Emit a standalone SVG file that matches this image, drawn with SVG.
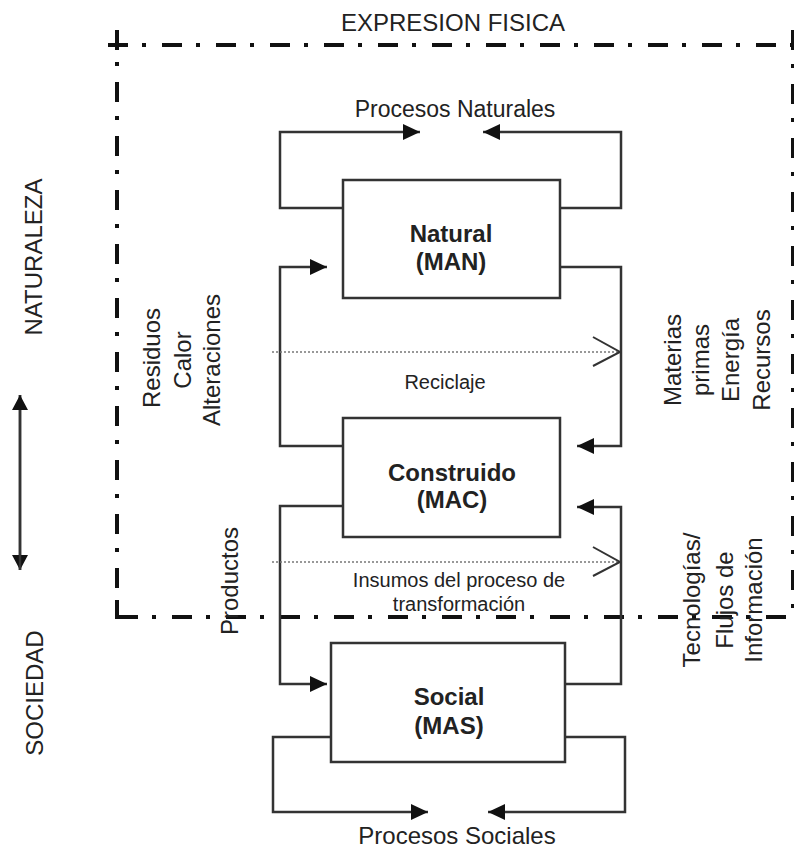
<svg xmlns="http://www.w3.org/2000/svg" width="794" height="851" viewBox="0 0 794 851">
<defs>
<style>
text{font-family:"Liberation Sans",Arial,sans-serif;fill:#222}
.box{fill:#fff;stroke:#333;stroke-width:2.5}
.lbl{font-size:24px;font-weight:bold;text-anchor:middle}
.t{font-size:24px;text-anchor:middle}
.conn{fill:none;stroke:#333;stroke-width:2.5}
.dot{fill:none;stroke:#777;stroke-width:1.5;stroke-dasharray:2 2}
.open{fill:none;stroke:#333;stroke-width:2}
.dd{fill:none;stroke:#111;stroke-width:4;stroke-dasharray:20 14 4 16}
</style>
<marker id="ah" markerUnits="userSpaceOnUse" markerWidth="18" markerHeight="16" refX="17" refY="8" orient="auto">
<path d="M0,0 L17,8 L0,16 Z" fill="#111"/>
</marker>
<marker id="ah2" markerUnits="userSpaceOnUse" markerWidth="16" markerHeight="16" refX="15" refY="8" orient="auto">
<path d="M0,0 L15,8 L0,16 Z" fill="#111"/>
</marker>
</defs>
<rect width="794" height="851" fill="#fff"/>

<g id="frame">
<path class="dd" d="M108,45 H794"/>
<path d="M117,30 V50" stroke="#111" stroke-width="4"/>
<path class="dd" d="M117,50 V617" stroke-dashoffset="22"/>
<path class="dd" d="M117,617 H794" stroke-dashoffset="53"/>
<path d="M117,600 V617 H133" fill="none" stroke="#111" stroke-width="4"/>
<path class="dd" d="M793,30 V617" stroke-width="3" stroke="#666"/>
<text x="453" y="31" style="font-size:24px;text-anchor:middle">EXPRESION FISICA</text>
</g>

<g id="axis">
<path d="M20,395 V570" stroke="#333" stroke-width="2.5" marker-end="url(#ah2)"/>
<path d="M20,570 V395" stroke="#333" stroke-width="2.5" marker-end="url(#ah2)"/>
<text class="t" transform="translate(42,257) rotate(-90)">NATURALEZA</text>
<text class="t" transform="translate(43,693) rotate(-90)">SOCIEDAD</text>
</g>

<g id="connectors">
<path class="conn" d="M343,208 H280 V132 H420" marker-end="url(#ah)"/>
<path class="conn" d="M560,208 H621 V132 H483" marker-end="url(#ah)"/>
<path class="conn" d="M343,446 H280 V267 H327" marker-end="url(#ah)"/>
<path class="conn" d="M560,267 H621 V446 H577" marker-end="url(#ah)"/>
<path class="conn" d="M565,684 H621 V507 H577" marker-end="url(#ah)"/>
<path class="conn" d="M343,506 H280 V684 H327" marker-end="url(#ah)"/>
<path class="conn" d="M335,737 H273 V812 H428" marker-end="url(#ah)"/>
<path class="conn" d="M562,737 H625 V812 H488" marker-end="url(#ah)"/>
<path class="dot" d="M272,352 H619"/>
<polyline class="open" points="593,337 620,352 593,366"/>
<path class="dot" d="M272,562 H619"/>
<polyline class="open" points="593,547 620,562 593,576"/>
<text x="455" y="117" style="font-size:23px;text-anchor:middle">Procesos Naturales</text>
<text x="445" y="389" style="font-size:20px;text-anchor:middle">Reciclaje</text>
<text x="459" y="587" style="font-size:20px;text-anchor:middle">Insumos del proceso de</text>
<text x="459" y="611" style="font-size:20px;text-anchor:middle">transformación</text>
<text x="457" y="844" style="font-size:24px;text-anchor:middle">Procesos Sociales</text>
<text class="t" transform="translate(160,358) rotate(-90)">Residuos</text>
<text class="t" transform="translate(191,360) rotate(-90)">Calor</text>
<text class="t" transform="translate(220,360) rotate(-90)">Alteraciones</text>
<text class="t" transform="translate(238,581) rotate(-90)">Productos</text>
<text class="t" transform="translate(681,360) rotate(-90)">Materias</text>
<text class="t" transform="translate(709,360) rotate(-90)">primas</text>
<text class="t" transform="translate(739,360) rotate(-90)">Energía</text>
<text class="t" transform="translate(770,360) rotate(-90)">Recursos</text>
<text class="t" transform="translate(700,600) rotate(-90)">Tecnologías/</text>
<text class="t" transform="translate(733,600) rotate(-90)">Flujos de</text>
<text class="t" transform="translate(762,600) rotate(-90)">Información</text>
</g>

<g id="natural">
<rect class="box" x="343" y="180" width="217" height="118"/>
<text class="lbl" x="451" y="242">Natural</text>
<text class="lbl" x="451" y="270">(MAN)</text>
</g>
<g id="construido">
<rect class="box" x="343" y="418" width="217" height="119"/>
<text class="lbl" x="452" y="481">Construido</text>
<text class="lbl" x="452" y="508">(MAC)</text>
</g>
<g id="social">
<rect class="box" x="331" y="643" width="234" height="119"/>
<text class="lbl" x="449" y="705">Social</text>
<text class="lbl" x="449" y="734">(MAS)</text>
</g>
</svg>
